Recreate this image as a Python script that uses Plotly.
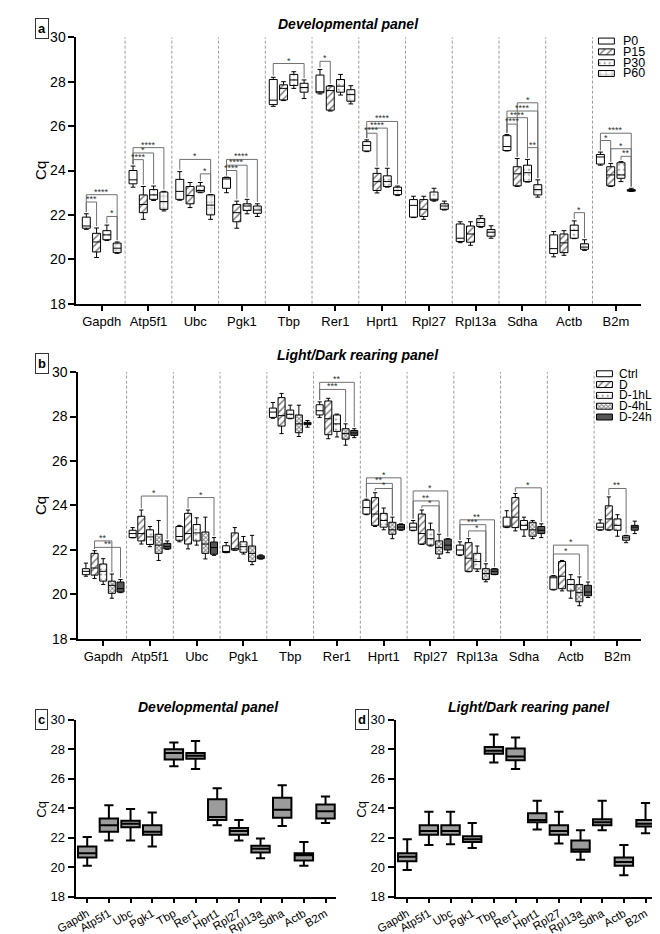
import plotly.graph_objects as go

W, H = 660, 934
def fx(p): return p / W
def fy(p): return 1 - p / H

genes = ["Gapdh", "Atp5f1", "Ubc", "Pgk1", "Tbp", "Rer1", "Hprt1", "Rpl27", "Rpl13a", "Sdha", "Actb", "B2m"]

# ---------------- Panel a: developmental (lo, q1, median, q3, hi) ----------------
dev_groups = ["P0", "P15", "P30", "P60"]
P0_lo  = [21.35, 23.25, 22.66, 23.00, 26.89, 27.45, 24.85, 21.88, 20.75, 24.88, 20.11, 24.24]
P0_q1  = [21.40, 23.40, 22.70, 23.20, 26.97, 27.50, 24.88, 21.90, 20.80, 24.90, 20.26, 24.29]
P0_med = [21.50, 23.58, 23.06, 23.62, 27.17, 27.55, 25.13, 22.43, 20.95, 25.08, 20.48, 24.61]
P0_q3  = [21.90, 24.00, 23.60, 23.68, 28.10, 28.30, 25.30, 22.69, 21.59, 25.57, 21.10, 24.72]
P0_hi  = [22.05, 24.20, 23.95, 23.70, 28.20, 28.55, 25.38, 22.84, 21.69, 25.62, 21.25, 24.83]

P15_lo  = [20.08, 21.80, 22.33, 21.40, 27.15, 26.68, 22.99, 21.80, 20.63, 23.28, 20.18, 23.28]
P15_q1  = [20.33, 22.10, 22.50, 21.69, 27.18, 26.72, 23.10, 21.93, 20.77, 23.31, 20.30, 23.31]
P15_med = [20.78, 22.47, 22.87, 22.10, 27.70, 27.60, 23.50, 22.25, 21.14, 23.85, 20.74, 23.80]
P15_q3  = [21.17, 22.90, 23.28, 22.47, 27.86, 27.80, 23.87, 22.69, 21.50, 24.17, 21.14, 24.17]
P15_hi  = [21.41, 23.28, 23.46, 22.62, 28.00, 27.83, 24.10, 22.84, 21.69, 24.54, 21.29, 24.32]

P30_lo  = [20.85, 22.65, 23.00, 22.05, 27.70, 27.40, 23.25, 22.62, 21.44, 23.48, 20.93, 23.50]
P30_q1  = [20.88, 22.70, 23.03, 22.20, 27.83, 27.53, 23.28, 22.66, 21.48, 23.50, 20.95, 23.65]
P30_med = [21.10, 22.90, 23.10, 22.40, 28.08, 27.80, 23.50, 22.69, 21.66, 23.90, 21.30, 23.80]
P30_q3  = [21.29, 23.14, 23.30, 22.50, 28.33, 28.10, 23.76, 23.03, 21.84, 24.24, 21.54, 24.35]
P30_hi  = [21.54, 23.30, 23.46, 22.70, 28.45, 28.33, 24.10, 23.20, 21.96, 24.50, 21.73, 24.40]

P60_lo  = [20.27, 22.18, 21.80, 21.93, 27.24, 27.00, 22.87, 22.22, 20.95, 22.80, 20.40, 23.06]
P60_q1  = [20.30, 22.25, 22.00, 22.07, 27.53, 27.12, 22.91, 22.25, 21.04, 22.90, 20.45, 23.07]
P60_med = [20.50, 22.60, 22.44, 22.22, 27.74, 27.42, 23.10, 22.40, 21.22, 23.14, 20.55, 23.10]
P60_q3  = [20.73, 23.03, 22.90, 22.40, 27.93, 27.64, 23.25, 22.50, 21.34, 23.36, 20.70, 23.14]
P60_hi  = [20.78, 23.06, 22.92, 22.50, 28.08, 27.82, 23.30, 22.62, 21.51, 23.58, 20.88, 23.20]

# significance brackets: (gene index, group a, group b, level, label)
dev_sig = [
    (0, 0, 3, 22.91, "****"), (0, 0, 1, 22.58, "***"), (0, 2, 3, 21.93, "*"),
    (1, 0, 3, 25.03, "****"), (1, 0, 2, 24.79, "*"), (1, 0, 1, 24.49, "****"),
    (2, 0, 3, 24.50, "*"), (2, 2, 3, 23.85, "*"),
    (3, 0, 3, 24.50, "****"), (3, 0, 2, 24.24, "****"), (3, 0, 1, 24.00, "****"),
    (4, 0, 3, 28.82, "*"),
    (5, 0, 1, 28.92, "*"),
    (6, 0, 3, 26.21, "****"), (6, 0, 2, 25.91, "****"), (6, 0, 1, 25.68, "****"),
    (9, 1, 3, 27.05, "*"), (9, 0, 3, 26.68, "****"), (9, 0, 2, 26.38, "****"),
    (9, 0, 1, 26.09, "****"), (9, 2, 3, 25.03, "**"),
    (10, 2, 3, 22.10, "*"),
    (11, 0, 3, 25.68, "****"), (11, 0, 1, 25.35, "*"), (11, 1, 3, 24.98, "*"), (11, 2, 3, 24.64, "**"),
]

# ---------------- Panel b: light/dark rearing ----------------
ld_groups = ["Ctrl", "D", "D-1hL", "D-4hL", "D-24hL"]
Ctrl_lo  = [20.81, 22.54, 22.36, 21.87, 27.92, 27.96, 23.58, 22.86, 21.74, 23.00, 20.19, 22.88]
Ctrl_q1  = [20.88, 22.55, 22.43, 21.88, 27.96, 28.07, 23.61, 22.88, 21.77, 23.02, 20.22, 22.90]
Ctrl_med = [21.03, 22.73, 22.60, 21.92, 28.20, 28.26, 23.90, 23.02, 21.99, 23.05, 20.74, 23.02]
Ctrl_q3  = [21.15, 22.88, 23.05, 22.18, 28.38, 28.53, 24.23, 23.20, 22.21, 23.47, 20.81, 23.20]
Ctrl_hi  = [21.40, 23.00, 23.10, 22.33, 28.63, 28.66, 24.28, 23.32, 22.36, 23.76, 20.84, 23.35]

D_lo  = [20.71, 22.26, 22.04, 21.98, 27.23, 27.00, 23.05, 22.24, 21.01, 22.85, 20.15, 22.88]
D_q1  = [20.86, 22.40, 22.26, 21.99, 27.57, 27.18, 23.10, 22.26, 21.03, 23.00, 20.25, 22.90]
D_med = [21.18, 22.73, 22.73, 22.05, 28.04, 27.90, 23.61, 22.73, 21.62, 23.47, 20.81, 23.39]
D_q3  = [21.84, 23.51, 23.64, 22.76, 28.85, 28.70, 24.35, 23.61, 22.32, 24.35, 21.47, 23.98]
D_hi  = [21.96, 23.79, 23.79, 23.00, 29.04, 28.82, 24.57, 23.79, 22.50, 24.53, 21.52, 24.38]

D1_lo  = [20.44, 22.14, 22.21, 21.81, 27.90, 27.08, 22.90, 22.17, 21.03, 22.61, 19.82, 22.61]
D1_q1  = [20.59, 22.24, 22.40, 21.89, 27.92, 27.33, 23.02, 22.21, 21.14, 22.90, 20.15, 22.88]
D1_med = [21.03, 22.58, 22.76, 22.14, 28.10, 27.67, 23.32, 22.50, 21.47, 23.10, 20.44, 23.10]
D1_q3  = [21.36, 22.90, 23.14, 22.36, 28.29, 28.07, 23.64, 22.90, 21.84, 23.32, 20.66, 23.39]
D1_hi  = [21.60, 23.05, 23.44, 22.60, 28.51, 28.11, 23.88, 23.20, 22.17, 23.47, 20.88, 23.58]

D4_lo  = [19.82, 21.52, 21.59, 21.33, 27.10, 26.71, 22.50, 21.62, 20.56, 22.50, 19.48, 22.32]
D4_q1  = [20.04, 21.84, 21.84, 21.47, 27.27, 26.98, 22.70, 21.81, 20.66, 22.61, 19.66, 22.43]
D4_med = [20.40, 22.21, 22.26, 21.84, 27.67, 27.23, 22.90, 22.11, 20.93, 22.90, 20.07, 22.54]
D4_q3  = [20.59, 22.70, 22.80, 22.17, 28.07, 27.45, 23.24, 22.40, 21.15, 23.24, 20.44, 22.63]
D4_hi  = [20.91, 23.32, 23.47, 22.65, 28.51, 27.67, 23.47, 22.70, 21.37, 23.32, 20.78, 22.65]

D24_lo  = [20.07, 22.02, 21.75, 21.58, 27.52, 27.05, 22.88, 21.87, 20.88, 22.55, 19.85, 22.73]
D24_q1  = [20.10, 22.04, 21.80, 21.60, 27.63, 27.15, 22.90, 21.99, 20.89, 22.73, 19.93, 22.88]
D24_med = [20.25, 22.14, 22.10, 21.67, 27.68, 27.26, 23.02, 22.21, 21.03, 22.88, 20.10, 23.02]
D24_q3  = [20.55, 22.29, 22.35, 21.73, 27.74, 27.37, 23.14, 22.48, 21.14, 23.05, 20.40, 23.10]
D24_hi  = [20.66, 22.40, 22.55, 21.77, 27.82, 27.45, 23.17, 22.50, 21.15, 23.17, 20.55, 23.29]

ld_sig = [
    (0, 1, 3, 22.40, "**"), (0, 1, 4, 22.11, "**"),
    (1, 1, 4, 24.42, "*"),
    (2, 1, 4, 24.35, "*"),
    (5, 0, 4, 29.54, "**"), (5, 0, 3, 29.22, "***"),
    (6, 0, 4, 25.24, "*"), (6, 0, 3, 24.99, "**"), (6, 1, 3, 24.76, "*"),
    (7, 0, 4, 24.65, "*"), (7, 0, 3, 24.20, "**"), (7, 1, 3, 23.98, "*"),
    (8, 0, 4, 23.35, "**"), (8, 0, 3, 23.13, "***"), (8, 1, 3, 22.85, "*"),
    (9, 1, 4, 24.79, "*"),
    (10, 0, 4, 22.21, "*"), (10, 0, 3, 21.81, "*"),
    (11, 1, 3, 24.76, "**"),
]

# ---------------- Panel c / d: pooled ----------------
devall_lo  = [20.10, 21.80, 21.80, 21.40, 26.85, 26.65, 22.85, 21.80, 20.60, 22.80, 20.10, 23.00]
devall_q1  = [20.65, 22.40, 22.70, 22.20, 27.30, 27.35, 23.20, 22.20, 21.00, 23.35, 20.45, 23.30]
devall_med = [20.95, 22.85, 22.95, 22.40, 27.75, 27.55, 23.40, 22.45, 21.25, 23.90, 20.80, 23.80]
devall_q3  = [21.40, 23.30, 23.15, 22.85, 28.00, 27.75, 24.60, 22.65, 21.45, 24.70, 20.95, 24.25]
devall_hi  = [22.05, 24.20, 23.95, 23.70, 28.45, 28.55, 25.35, 23.20, 21.95, 25.55, 21.70, 24.80]

ldall_lo  = [19.80, 21.50, 21.55, 21.30, 27.10, 26.65, 22.55, 21.60, 20.50, 22.50, 19.45, 22.30]
ldall_q1  = [20.40, 22.20, 22.20, 21.70, 27.70, 27.25, 23.05, 22.20, 21.05, 22.85, 20.10, 22.75]
ldall_med = [20.70, 22.45, 22.45, 21.90, 27.90, 27.50, 23.20, 22.45, 21.20, 23.05, 20.35, 22.95]
ldall_q3  = [20.95, 22.85, 22.85, 22.10, 28.15, 28.05, 23.65, 22.85, 21.80, 23.25, 20.65, 23.20]
ldall_hi  = [21.90, 23.75, 23.75, 23.00, 29.00, 28.80, 24.50, 23.75, 22.50, 24.50, 21.50, 24.35]

# ---------------- build ----------------
FONT = "Liberation Sans, Arial, sans-serif"
fig = go.Figure()

dev_stats = [
    (P0_lo, P0_q1, P0_med, P0_q3, P0_hi),
    (P15_lo, P15_q1, P15_med, P15_q3, P15_hi),
    (P30_lo, P30_q1, P30_med, P30_q3, P30_hi),
    (P60_lo, P60_q1, P60_med, P60_q3, P60_hi),
]
ld_stats = [
    (Ctrl_lo, Ctrl_q1, Ctrl_med, Ctrl_q3, Ctrl_hi),
    (D_lo, D_q1, D_med, D_q3, D_hi),
    (D1_lo, D1_q1, D1_med, D1_q3, D1_hi),
    (D4_lo, D4_q1, D4_med, D4_q3, D4_hi),
    (D24_lo, D24_q1, D24_med, D24_q3, D24_hi),
]

dev_styles = [
    dict(color="white", pattern=dict(shape="")),
    dict(color="white", pattern=dict(shape="/", fgcolor="black", bgcolor="white", size=5, solidity=0.3)),
    dict(color="white", pattern=dict(shape=".", fgcolor="black", bgcolor="white", size=5, solidity=0.12)),
    dict(color="white", pattern=dict(shape="+", fgcolor="black", bgcolor="white", size=6, solidity=0.15)),
]
ld_styles = [
    dict(color="white", pattern=dict(shape="")),
    dict(color="white", pattern=dict(shape="/", fgcolor="black", bgcolor="white", size=5, solidity=0.3)),
    dict(color="white", pattern=dict(shape=".", fgcolor="black", bgcolor="white", size=5, solidity=0.12)),
    dict(color="white", pattern=dict(shape="x", fgcolor="black", bgcolor="white", size=3, solidity=0.5)),
    dict(color="#555555", pattern=dict(shape="")),
]

dev_off = [-0.33, -0.11, 0.11, 0.33]
ld_off = [-0.37, -0.185, 0.0, 0.185, 0.37]

shapes = []
annotations = []

def grouped_panel(xa, ya, stats, styles, offs, w, sig, xref, yref):
    for k, (lo, q1, med, q3, hi) in enumerate(stats):
        xs = [i + offs[k] for i in range(len(genes))]
        fig.add_trace(go.Bar(
            x=xs, y=[b - a for a, b in zip(q1, q3)], base=q1, width=w,
            marker=dict(color=styles[k]["color"], pattern=styles[k]["pattern"], line=dict(width=0)),
            xaxis=xa, yaxis=ya, showlegend=False, hoverinfo="skip"))
        fig.add_trace(go.Box(
            x=xs, q1=q1, median=med, q3=q3, lowerfence=lo, upperfence=hi, width=w,
            fillcolor="rgba(0,0,0,0)", line=dict(color="black", width=1),
            whiskerwidth=0.6, boxpoints=False, xaxis=xa, yaxis=ya, showlegend=False))
    for i in range(len(genes) - 1):
        shapes.append(dict(type="line", xref=xref, yref=yref + " domain", x0=i + 0.5, x1=i + 0.5,
                           y0=0, y1=1, line=dict(color="#9a9a9a", width=1, dash="3px,2px"), layer="below"))
    for g, a, b, lvl, lab in sig:
        xa1 = g + offs[a]
        xb1 = g + offs[b]
        ya1 = stats[a][4][g] + 0.08
        yb1 = stats[b][4][g] + 0.08
        shapes.append(dict(type="path", xref=xref, yref=yref,
                           path=f"M {xa1},{ya1} L {xa1},{lvl} L {xb1},{lvl} L {xb1},{yb1}",
                           line=dict(color="#707070", width=1)))
        annotations.append(dict(x=(xa1 + xb1) / 2, y=lvl, xref=xref, yref=yref, text=lab,
                                showarrow=False, yanchor="bottom", yshift=-4,
                                font=dict(size=9, color="#333333", family=FONT)))

grouped_panel("x", "y", dev_stats, dev_styles, dev_off, 0.17, dev_sig, "x", "y")
grouped_panel("x2", "y2", ld_stats, ld_styles, ld_off, 0.15, ld_sig, "x2", "y2")

def pooled_panel(xa, ya, lo, q1, med, q3, hi):
    fig.add_trace(go.Box(
        x=list(range(len(genes))), q1=q1, median=med, q3=q3, lowerfence=lo, upperfence=hi,
        width=0.85, fillcolor="#9c9c9c", line=dict(color="black", width=2),
        whiskerwidth=0.5, boxpoints=False, xaxis=xa, yaxis=ya, showlegend=False))

pooled_panel("x3", "y3", devall_lo, devall_q1, devall_med, devall_q3, devall_hi)
pooled_panel("x4", "y4", ldall_lo, ldall_q1, ldall_med, ldall_q3, ldall_hi)

# legends (swatches drawn as bars on small helper axes)
def legend_block(xa, ya, names, styles):
    for k, nm in enumerate(names):
        fig.add_trace(go.Bar(
            x=[1], y=[k], base=0, width=0.55, orientation="h",
            marker=dict(color=styles[k]["color"], pattern=styles[k]["pattern"],
                        line=dict(color="black", width=1)),
            xaxis=xa, yaxis=ya, showlegend=False, hoverinfo="skip"))

legend_block("x5", "y5", dev_groups, dev_styles)
legend_block("x6", "y6", ld_groups, ld_styles)

leg_a_top, leg_step = 20, 11
for k, nm in enumerate(dev_groups):
    annotations.append(dict(x=fx(613), y=fy(leg_a_top + leg_step * (k + 0.5)), xref="paper", yref="paper",
                            text=nm, showarrow=False, xanchor="left", yanchor="middle", borderpad=0,
                            font=dict(size=12.5, family=FONT, color="black")))
leg_b_top = 358.5
for k, nm in enumerate(ld_groups):
    annotations.append(dict(x=fx(608), y=fy(leg_b_top + leg_step * (k + 0.5)), xref="paper", yref="paper",
                            text=nm, showarrow=False, xanchor="left", yanchor="middle", borderpad=0,
                            font=dict(size=12, family=FONT, color="black")))

# titles, panel letters, y labels
titles = [("Developmental panel", 330, 8.5), ("Light/Dark rearing panel", 340, 345),
          ("Developmental panel", 186, 703), ("Light/Dark rearing panel", 517, 703)]
for t, x, y in titles:
    annotations.append(dict(x=fx(x), y=fy(y), xref="paper", yref="paper", text=f"<b><i>{t}</i></b>",
                            showarrow=False, xanchor="center", yanchor="middle",
                            font=dict(size=14, family=FONT, color="black")))
letters = [("a", 14, 13), ("b", 14, 354), ("c", 14, 716), ("d", 344, 716)]
for t, x, y in letters:
    annotations.append(dict(x=fx(x), y=fy(y), xref="paper", yref="paper", text=f"<b>{t}</b>",
                            showarrow=False, xanchor="center", yanchor="middle",
                            bordercolor="#333333", borderwidth=1, borderpad=2, bgcolor="white",
                            font=dict(size=13, family=FONT, color="black")))
cq = [(13, 157, 15), (13, 498, 15), (14, 807, 13), (344, 807, 13)]
for x, y, s in cq:
    annotations.append(dict(x=fx(x), y=fy(y), xref="paper", yref="paper", text="Cq", textangle=-90,
                            showarrow=False, xanchor="center", yanchor="middle",
                            font=dict(size=s, family=FONT, color="black")))

def xax(domain, rng, size, angle=0, tlen=5):
    return dict(domain=domain, range=rng, tickmode="array", tickvals=list(range(len(genes))),
                ticktext=genes, ticks="outside", ticklen=tlen, tickwidth=2, tickcolor="black",
                showline=True, linewidth=2, linecolor="black", showgrid=False, zeroline=False,
                tickangle=angle, tickfont=dict(size=size, family=FONT, color="black"), fixedrange=True)

def yax(domain, size, anchor):
    return dict(domain=domain, range=[18, 30], tick0=18, dtick=2, ticks="outside", ticklen=6,
                tickwidth=2, tickcolor="black", showline=True, linewidth=2, linecolor="black",
                showgrid=False, zeroline=False, anchor=anchor,
                tickfont=dict(size=size, family=FONT, color="black"), fixedrange=True)

hidden = dict(visible=False, fixedrange=True)

fig.update_layout(
    width=W, height=H, margin=dict(l=0, r=0, t=0, b=0),
    paper_bgcolor="white", plot_bgcolor="white",
    barmode="overlay", boxmode="overlay", showlegend=False,
    font=dict(family=FONT, color="black"),
    xaxis=dict(**xax([fx(50), fx(632)], [-0.54, 11.535], 13), anchor="y"),
    yaxis=yax([fy(292.7), fy(21.7)], 14, "x"),
    xaxis2=dict(**xax([fx(52), fx(632)], [-0.53, 11.5], 13), anchor="y2"),
    yaxis2=yax([fy(633.5), fy(362.3)], 14, "x2"),
    xaxis3=dict(**xax([fx(49), fx(318)], [-0.54, 11.5], 11.5, -30, 4), anchor="y3"),
    yaxis3=yax([fy(896), fy(716)], 13, "x3"),
    xaxis4=dict(**xax([fx(379), fx(648)], [-0.54, 11.5], 11.5, -30, 4), anchor="y4"),
    yaxis4=yax([fy(896), fy(716)], 13, "x4"),
    xaxis5=dict(domain=[fx(587), fx(606)], range=[-0.08, 1.08], anchor="y5", **hidden),
    yaxis5=dict(domain=[fy(20 + 44), fy(20)], range=[3.5, -0.5], anchor="x5", **hidden),
    xaxis6=dict(domain=[fx(585), fx(604)], range=[-0.08, 1.08], anchor="y6", **hidden),
    yaxis6=dict(domain=[fy(358.5 + 55), fy(358.5)], range=[4.5, -0.5], anchor="x6", **hidden),
    shapes=shapes, annotations=annotations,
)

fig.write_html("out.html")
